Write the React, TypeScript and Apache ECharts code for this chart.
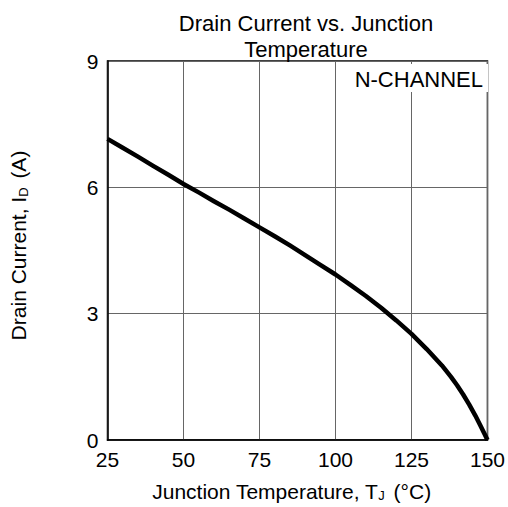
import React, { useEffect, useRef } from "react";
import * as echarts from "echarts";

const temperatures = [25, 30, 35, 40, 45, 50, 55, 60, 65, 70, 75, 80, 85, 90, 95, 100, 105, 110, 115, 120, 125, 130, 135, 138, 140, 142, 144, 146, 147.5, 148.8, 150];
const drainCurrent = [7.15, 6.94, 6.73, 6.51, 6.3, 6.08, 5.88, 5.67, 5.47, 5.26, 5.05, 4.84, 4.62, 4.39, 4.16, 3.93, 3.68, 3.42, 3.14, 2.84, 2.52, 2.16, 1.77, 1.5, 1.3, 1.08, 0.84, 0.58, 0.37, 0.18, 0];
const xTicks = [25, 50, 75, 100, 125, 150];
const yTicks = [0, 3, 6, 9];

const FONT = "'Liberation Sans', Arial, sans-serif";

export default function App() {
  const ref = useRef<HTMLDivElement>(null);
  useEffect(() => {
    document.body.style.margin = "0";
    if (!ref.current) return;
    const chart = echarts.init(ref.current, undefined, { renderer: "svg" });
    chart.setOption({
      animation: false,
      textStyle: { fontFamily: FONT, color: "#000" },
      title: {
        text: "Drain Current vs. Junction\nTemperature",
        left: 301,
        top: 5,
        textAlign: "center",
        textStyle: { fontFamily: FONT, fontSize: 22, fontWeight: "normal", color: "#000", lineHeight: 26 },
      },
      grid: {
        left: 107,
        right: 19,
        top: 61,
        bottom: 67,
        show: true,
        borderColor: "#000",
        borderWidth: 1.5,
        backgroundColor: "#fff",
      },
      xAxis: {
        type: "value",
        min: xTicks[0],
        max: xTicks[xTicks.length - 1],
        interval: 25,
        name: "Junction Temperature, T{sub|J} (°C)",
        nameLocation: "middle",
        nameGap: 40,
        nameTextStyle: {
          fontFamily: FONT,
          fontSize: 21,
          color: "#000",
          padding: [0, 12, 0, 0],
          rich: { sub: { fontSize: 13, padding: [9, 3, 0, 0], fontFamily: FONT, color: "#000" } },
        },
        axisLine: { show: true, lineStyle: { color: "#000", width: 1.5 } },
        axisTick: { show: false },
        axisLabel: { fontFamily: FONT, fontSize: 21, color: "#000", margin: 9 },
        splitLine: { show: true, lineStyle: { color: "#666", width: 1 } },
      },
      yAxis: {
        type: "value",
        min: yTicks[0],
        max: yTicks[yTicks.length - 1],
        interval: 3,
        name: "Drain Current, I{sub|D} (A)",
        nameLocation: "middle",
        nameGap: 78,
        nameTextStyle: {
          fontFamily: FONT,
          fontSize: 21,
          color: "#000",
          padding: [0, 0, 0, 10],
          rich: { sub: { fontSize: 13, padding: [9, 3, 0, 0], fontFamily: FONT, color: "#000" } },
        },
        axisLine: { show: true, lineStyle: { color: "#000", width: 1.5 } },
        axisTick: { show: false },
        axisLabel: { fontFamily: FONT, fontSize: 21, color: "#000", margin: 9 },
        splitLine: { show: true, lineStyle: { color: "#666", width: 1 } },
      },
      graphic: [
        { type: "rect", right: 20, top: 64, shape: { width: 140, height: 28 }, style: { fill: "#fff" }, z: 10 },
        {
          type: "text",
          right: 25,
          top: 68,
          style: { text: "N-CHANNEL", font: `22px ${FONT}`, fill: "#000" },
          z: 11,
        },
      ],
      series: [
        {
          type: "line",
          data: temperatures.map((t, i) => [t, drainCurrent[i]]),
          smooth: false,
          showSymbol: false,
          lineStyle: { color: "#000", width: 4.5, join: "round" },
          z: 5,
        },
      ],
    });
    return () => chart.dispose();
  }, []);
  return <div ref={ref} style={{ width: 508, height: 507 }} />;
}
